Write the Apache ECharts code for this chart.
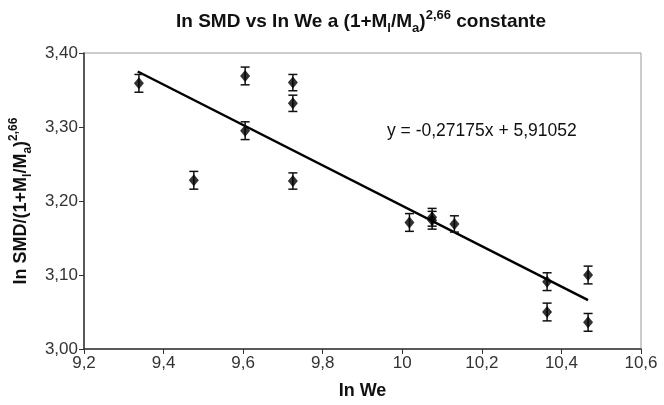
<!DOCTYPE html>
<html>
<head>
<meta charset="utf-8">
<script src="https://cdn.jsdelivr.net/npm/echarts@6/dist/echarts.min.js"></script>
<style>html,body{margin:0;padding:0;background:#fff}#c{width:664px;height:405px}</style>
</head>
<body>
<div id="c"></div>
<script>
// Data
var xValues = [9.338, 9.476, 9.605, 9.605, 9.725, 9.725, 9.725, 10.018, 10.075, 10.075, 10.131, 10.364, 10.364, 10.467, 10.467];
var yValues = [3.359, 3.228, 3.369, 3.295, 3.360, 3.332, 3.227, 3.171, 3.178, 3.174, 3.169, 3.091, 3.050, 3.100, 3.036];
var yErrors = [0.012, 0.012, 0.012, 0.012, 0.011, 0.011, 0.011, 0.012, 0.012, 0.012, 0.011, 0.012, 0.012, 0.012, 0.012];
var trendX = [9.335, 10.467];
var trendY = [3.375, 3.066];
var equationText = 'y = -0,27175x + 5,91052';
var xTicks = {min: 9.2, max: 10.6, interval: 0.2};
var yTicks = {min: 3.0, max: 3.4, interval: 0.1};

var points = xValues.map(function (x, i) { return [x, yValues[i]]; });
var errData = xValues.map(function (x, i) { return [x, yValues[i], yErrors[i]]; });
var trend = trendX.map(function (x, i) { return [x, trendY[i]]; });

var FONT = 'Liberation Sans, Arial, sans-serif';
function richSet(size) {
  return {
    b: {fontSize: size, fontWeight: 'bold', color: '#111', fontFamily: FONT, lineHeight: 26, verticalAlign: 'middle'},
    sub: {fontSize: Math.round(size * 0.68), fontWeight: 'bold', color: '#111', fontFamily: FONT, lineHeight: 26, verticalAlign: 'bottom'},
    sup: {fontSize: Math.round(size * 0.68), fontWeight: 'bold', color: '#111', fontFamily: FONT, lineHeight: 26, verticalAlign: 'top'}
  };
}
var chart = echarts.init(document.getElementById('c'), null, {renderer: 'canvas'});
chart.setOption({
  backgroundColor: '#ffffff',
  animation: false,
  title: {
    text: '{b|In SMD vs In We a (1+M}{sub|l}{b|/M}{sub|a}{b|)}{sup|2,66}{b| constante}',
    left: 356, top: 4, textAlign: 'center',
    textStyle: {fontFamily: FONT, rich: richSet(19)}
  },
  grid: {left: 84, right: 23, top: 53, bottom: 51, show: true, borderColor: '#999', borderWidth: 1, backgroundColor: '#fff'},
  xAxis: {
    type: 'value', min: xTicks.min, max: xTicks.max, interval: xTicks.interval,
    name: 'In We', nameLocation: 'middle', nameGap: 33,
    nameTextStyle: {fontFamily: FONT, fontSize: 18, fontWeight: 'bold', color: '#111'},
    axisLine: {show: true, onZero: false, lineStyle: {color: '#333', width: 1.5}},
    axisTick: {show: true, inside: false, length: 5, lineStyle: {color: '#333'}},
    splitLine: {show: false},
    axisLabel: {fontFamily: FONT, fontSize: 17, color: '#333', margin: 6,
      formatter: function (v) { return String(Math.round(v * 10) / 10).replace('.', ','); }}
  },
  yAxis: {
    type: 'value', min: yTicks.min, max: yTicks.max, interval: yTicks.interval,
    name: '{b|In SMD/(1+M}{sub|l}{b|/M}{sub|a}{b|)}{sup|2,66}', nameLocation: 'middle', nameGap: 50, nameRotate: 90,
    nameTextStyle: {fontFamily: FONT, rich: richSet(18)},
    axisLine: {show: true, onZero: false, lineStyle: {color: '#333', width: 1.5}},
    axisTick: {show: true, inside: false, length: 5, lineStyle: {color: '#333'}},
    splitLine: {show: false},
    axisLabel: {fontFamily: FONT, fontSize: 17, color: '#333', margin: 6,
      formatter: function (v) { return (Math.round(v * 100) / 100).toFixed(2).replace('.', ','); }}
  },
  graphic: [{
    type: 'text', left: 387, top: 122,
    style: {text: equationText, fontFamily: FONT, fontSize: 17.5, fill: '#111'}
  }],
  series: [
    {
      type: 'line', data: trend, symbol: 'none', z: 3,
      lineStyle: {color: '#000', width: 2.5}
    },
    {
      type: 'custom', z: 4,
      renderItem: function (params, api) {
        var x = api.value(0), y = api.value(1), e = api.value(2);
        var top = api.coord([x, y + e]);
        var bot = api.coord([x, y - e]);
        var hw = 4.5;
        var st = {stroke: '#111', lineWidth: 1.5};
        return {type: 'group', children: [
          {type: 'line', shape: {x1: top[0], y1: top[1], x2: bot[0], y2: bot[1]}, style: st},
          {type: 'line', shape: {x1: top[0] - hw, y1: top[1], x2: top[0] + hw, y2: top[1]}, style: st},
          {type: 'line', shape: {x1: bot[0] - hw, y1: bot[1], x2: bot[0] + hw, y2: bot[1]}, style: st}
        ]};
      },
      encode: {x: 0, y: 1},
      data: errData
    },
    {
      type: 'scatter', data: points, symbol: 'diamond', symbolSize: [10, 12], z: 5,
      itemStyle: {color: '#000'}
    }
  ]
});
</script>
</body>
</html>
